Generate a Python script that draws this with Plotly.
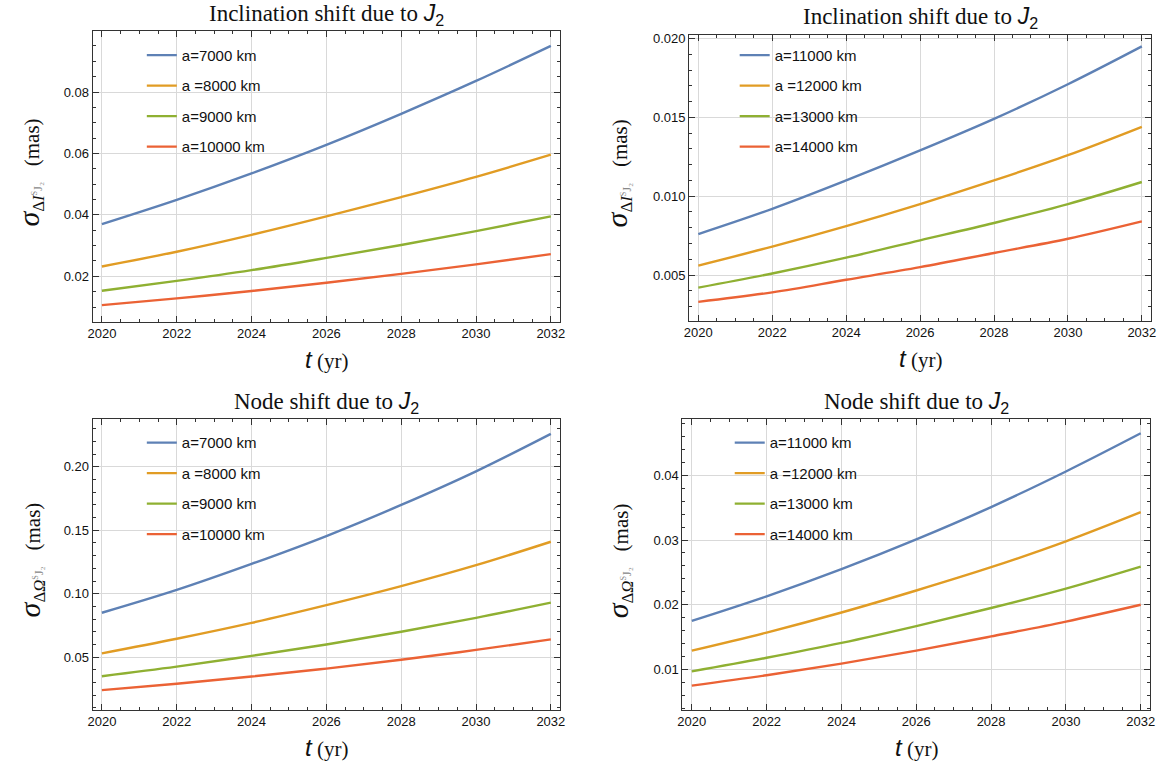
import plotly.graph_objects as go

years = [2020, 2022, 2024, 2026, 2028, 2030, 2032]

# Panel 1: inclination shift, a = 7000..10000 km
inc_7000 = [0.0370, 0.0449, 0.0535, 0.0628, 0.0729, 0.0836, 0.0950]
inc_8000 = [0.0232, 0.0280, 0.0335, 0.0395, 0.0458, 0.0524, 0.0596]
inc_9000 = [0.0153, 0.0185, 0.0220, 0.0260, 0.0302, 0.0347, 0.0395]
inc_10000 = [0.0106, 0.0128, 0.0152, 0.0179, 0.0208, 0.0239, 0.0272]

# Panel 2: inclination shift, a = 11000..14000 km
inc_11000 = [0.0076, 0.0092, 0.0110, 0.0129, 0.0149, 0.0171, 0.0195]
inc_12000 = [0.0056, 0.0068, 0.0081, 0.0095, 0.0110, 0.0126, 0.0144]
inc_13000 = [0.0042, 0.0051, 0.0061, 0.0072, 0.0083, 0.0095, 0.0109]
inc_14000 = [0.0033, 0.0039, 0.0047, 0.0055, 0.0064, 0.0073, 0.0084]

# Panel 3: node shift, a = 7000..10000 km
node_7000 = [0.085, 0.103, 0.1235, 0.1455, 0.170, 0.1965, 0.226]
node_8000 = [0.053, 0.0645, 0.077, 0.091, 0.106, 0.1225, 0.141]
node_9000 = [0.035, 0.0425, 0.051, 0.060, 0.070, 0.081, 0.093]
node_10000 = [0.024, 0.029, 0.0347, 0.041, 0.048, 0.0557, 0.064]

# Panel 4: node shift, a = 11000..14000 km
node_11000 = [0.0175, 0.0213, 0.0255, 0.0301, 0.0351, 0.0406, 0.0465]
node_12000 = [0.0129, 0.0157, 0.0188, 0.0222, 0.0258, 0.0298, 0.0343]
node_13000 = [0.0097, 0.0118, 0.0141, 0.0167, 0.0195, 0.0225, 0.0259]
node_14000 = [0.0075, 0.0091, 0.0109, 0.0129, 0.0151, 0.0174, 0.0200]

labels_low = ["a=7000 km", "a =8000 km", "a=9000 km", "a=10000 km"]
labels_high = ["a=11000 km", "a =12000 km", "a=13000 km", "a=14000 km"]
colors = ["#5E81B5", "#E19C24", "#8FB032", "#EB6235"]

W, H = 1166, 771

def px_x(p):
    return p / W

def px_y(p):
    return 1 - p / H

panels = [
    dict(series=[inc_7000, inc_8000, inc_9000, inc_10000], labels=labels_low,
         xdom=[88.3, 560], ydom=[28.3, 320], yrange=[0.0052, 0.0998], dtick=0.02, minor=0.005, fmt=".2f",
         title="Inclination shift due to ", sym="I", legxy=(138, 36), yoff=63),
    dict(series=[inc_11000, inc_12000, inc_13000, inc_14000], labels=labels_high,
         xdom=[690, 1156], ydom=[31.7, 319], yrange=[0.0021, 0.02025], dtick=0.005, minor=0.001, fmt=".3f",
         title="Inclination shift due to ", sym="I", legxy=(736, 36), yoff=72),
    dict(series=[node_7000, node_8000, node_9000, node_10000], labels=labels_low,
         xdom=[88.3, 560], ydom=[417.7, 709.3], yrange=[0.0087, 0.2377], dtick=0.05, minor=0.01, fmt=".2f",
         title="Node shift due to ", sym="Ω", legxy=(138, 425), yoff=62),
    dict(series=[node_11000, node_12000, node_13000, node_14000], labels=labels_high,
         xdom=[683.3, 1155], ydom=[417.7, 709.3], yrange=[0.0038, 0.0487], dtick=0.01, minor=0.002, fmt=".2f",
         title="Node shift due to ", sym="Ω", legxy=(731, 425), yoff=64),
]

fig = go.Figure()
layout = dict(width=W, height=H, margin=dict(l=0, r=0, t=0, b=0),
              plot_bgcolor="white", paper_bgcolor="white", showlegend=True)
annotations = []

for i, p in enumerate(panels):
    n = i + 1
    xa = "x" if n == 1 else f"x{n}"
    ya = "y" if n == 1 else f"y{n}"
    leg = "legend" if n == 1 else f"legend{n}"
    for j, (vals, lab) in enumerate(zip(p["series"], p["labels"])):
        fig.add_trace(go.Scatter(x=years, y=vals, mode="lines", name=lab,
                                 line=dict(color=colors[j], width=2.4, shape="spline", smoothing=1.0),
                                 xaxis=xa, yaxis=ya, legend=leg, legendgroup=f"g{n}_{j}"))
    axis_common = dict(showline=True, linecolor="#333", linewidth=1, mirror="ticks",
                       ticks="inside", ticklen=6, tickcolor="#333", tickwidth=1,
                       showgrid=True, gridcolor="#d9d9d9", gridwidth=1, zeroline=False,
                       tickfont=dict(family="Liberation Sans", size=13, color="#111"))
    layout[f"xaxis{'' if n == 1 else n}"] = dict(
        axis_common, domain=[px_x(p["xdom"][0]), px_x(p["xdom"][1])], anchor=ya,
        range=[2019.75, 2032.25], tickmode="linear", tick0=2020, dtick=2,
        minor=dict(dtick=0.5, tick0=2020, ticklen=3, ticks="inside", tickcolor="#333", showgrid=False))
    layout[f"yaxis{'' if n == 1 else n}"] = dict(
        axis_common, domain=[px_y(p["ydom"][1]), px_y(p["ydom"][0])], anchor=xa,
        range=p["yrange"], tickmode="linear", tick0=0, dtick=p["dtick"], tickformat=p["fmt"],
        minor=dict(dtick=p["minor"], tick0=0, ticklen=3, ticks="inside", tickcolor="#333", showgrid=False))
    lx, ly = p["legxy"]
    layout[leg] = dict(x=px_x(lx), y=px_y(ly), xanchor="left", yanchor="top",
                       xref="paper", yref="paper", bgcolor="rgba(0,0,0,0)",
                       font=dict(family="Liberation Sans", size=15, color="#111"),
                       tracegroupgap=8, itemwidth=30)
    xc = (p["xdom"][0] + p["xdom"][1]) / 2
    # title
    annotations.append(dict(
        text=p["title"] + "<span style='font-family:Liberation Sans'><i>J</i><sub>2</sub></span>",
        x=px_x(xc), y=px_y(p["ydom"][0] - 17), xref="paper", yref="paper",
        xanchor="center", yanchor="middle", showarrow=False,
        font=dict(family="Liberation Serif", size=23, color="#111")))
    # x title
    annotations.append(dict(
        text="<span style='font-family:Liberation Sans;font-size:24px'><i>t</i></span> (yr)",
        x=px_x(xc), y=px_y(p["ydom"][1] + 38), xref="paper", yref="paper",
        xanchor="center", yanchor="middle", showarrow=False,
        font=dict(family="Liberation Serif", size=21, color="#111")))
    # y title
    yc = (p["ydom"][0] + p["ydom"][1]) / 2
    annotations.append(dict(
        text="<span style='font-size:30px'><i>σ</i></span>"
             "<span style='font-size:24px'><sub>Δ<i>" + p["sym"] + "</i></sub></span>"
             "<span style='font-size:17px;color:#888'><sub><sup>S</sup>J₂</sub></span>"
             "&nbsp;&nbsp;&nbsp;(mas)",
        x=px_x(p["xdom"][0] - p["yoff"]), y=px_y(yc - 4), xref="paper", yref="paper",
        xanchor="center", yanchor="middle", showarrow=False, textangle=-90,
        font=dict(family="Liberation Serif", size=21, color="#111")))

layout["annotations"] = annotations
fig.update_layout(**layout)
fig.write_html("out.html")
